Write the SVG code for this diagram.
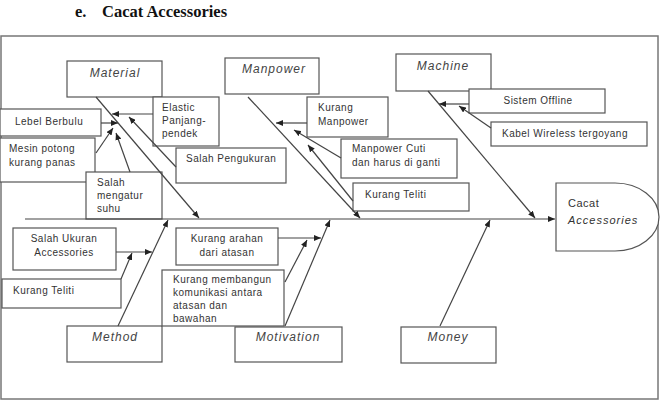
<svg xmlns="http://www.w3.org/2000/svg" width="660" height="403" viewBox="0 0 660 403">
<style>
.box{fill:#fff;stroke:#555;stroke-width:1.2}
.t{font-family:"Liberation Sans",Arial,sans-serif;font-size:10px;fill:#333;letter-spacing:0.5px}
.c{font-family:"Liberation Sans",Arial,sans-serif;font-size:12px;font-style:italic;fill:#444;letter-spacing:1px;text-anchor:middle}
.ln{stroke:#444;stroke-width:1.2;fill:none}
.ar{stroke:#444;stroke-width:1.2;fill:none;marker-end:url(#ah)}
</style>
<defs>
<marker id="ah" markerUnits="userSpaceOnUse" markerWidth="8" markerHeight="6" refX="7" refY="3" orient="auto">
<path d="M0,0 L7,3 L0,6 z" fill="#222"/>
</marker>
</defs>
<rect width="660" height="403" fill="#fff"/>
<text x="75" y="17" font-family="'Liberation Serif','Times New Roman',serif" font-size="16.5" font-weight="bold" fill="#111">e.</text>
<text x="102" y="17" font-family="'Liberation Serif','Times New Roman',serif" font-size="16.5" font-weight="bold" fill="#111">Cacat Accessories</text>
<rect x="1" y="36" width="657" height="363" fill="none" stroke="#777" stroke-width="1.5"/>

<g id="head">
<path class="box" d="M556,183 H615 A44,34 0 0 1 615,251 H556 Z"/>
<text class="t" x="568" y="207" style="font-size:11px">Cacat</text>
<text class="t" x="568" y="224" style="font-size:11px;font-style:italic;letter-spacing:1px">Accessories</text>
</g>

<g id="material"><rect class="box" x="67" y="61" width="95" height="36"/><text class="c" x="115" y="77">Material</text></g>
<g id="manpower"><rect class="box" x="225" y="58" width="94" height="36"/><text class="c" x="274" y="73">Manpower</text></g>
<g id="machine"><rect class="box" x="396" y="54" width="95" height="37"/><text class="c" x="443" y="70">Machine</text></g>
<g id="method"><rect class="box" x="67" y="326" width="95" height="36"/><text class="c" x="115" y="341">Method</text></g>
<g id="motivation"><rect class="box" x="235" y="327" width="107" height="35"/><text class="c" x="288" y="341">Motivation</text></g>
<g id="money"><rect class="box" x="401" y="327" width="95" height="36"/><text class="c" x="448" y="341">Money</text></g>

<g id="elastic"><rect class="box" x="153" y="97" width="66" height="49"/>
<text class="t" x="162" y="111">Elastic</text><text class="t" x="162" y="124">Panjang-</text><text class="t" x="162" y="137">pendek</text></g>
<g id="lebel"><rect class="box" x="0" y="109" width="101" height="27"/><text class="t" x="15" y="125">Lebel Berbulu</text></g>
<g id="mesin"><rect class="box" x="0" y="138" width="95" height="44"/>
<text class="t" x="9" y="152">Mesin potong</text><text class="t" x="9" y="166">kurang panas</text></g>
<g id="salahpengukuran"><rect class="box" x="176" y="148" width="110" height="35"/><text class="t" x="186" y="162">Salah Pengukuran</text></g>
<g id="salahsuhu"><rect class="box" x="86" y="172" width="76" height="47"/>
<text class="t" x="97" y="186">Salah</text><text class="t" x="97" y="199">mengatur</text><text class="t" x="97" y="212">suhu</text></g>

<g id="kurangmanpower"><rect class="box" x="307" y="97" width="81" height="40"/>
<text class="t" x="318" y="111">Kurang</text><text class="t" x="318" y="125">Manpower</text></g>
<g id="manpowercuti"><rect class="box" x="341" y="139" width="116" height="39"/>
<text class="t" x="352" y="152">Manpower Cuti</text><text class="t" x="352" y="166">dan harus di ganti</text></g>
<g id="kurangteliti1"><rect class="box" x="353" y="183" width="116" height="28"/><text class="t" x="365" y="198">Kurang Teliti</text></g>

<g id="sistemoffline"><rect class="box" x="469" y="89" width="136" height="24"/><text class="t" x="538" y="104" text-anchor="middle">Sistem Offline</text></g>
<g id="kabel"><rect class="box" x="491" y="122" width="156" height="24"/><text class="t" x="502" y="137">Kabel Wireless tergoyang</text></g>

<g id="salahukuran"><rect class="box" x="13" y="228" width="103" height="42"/>
<text class="t" x="64" y="242" text-anchor="middle">Salah Ukuran</text><text class="t" x="64" y="256" text-anchor="middle">Accessories</text></g>
<g id="kurangteliti2"><rect class="box" x="2" y="279" width="119" height="29"/><text class="t" x="13" y="294">Kurang Teliti</text></g>

<g id="kurangarahan"><rect class="box" x="176" y="228" width="102" height="37"/>
<text class="t" x="227" y="242" text-anchor="middle">Kurang arahan</text><text class="t" x="227" y="256" text-anchor="middle">dari atasan</text></g>
<g id="kurangmembangun"><rect class="box" x="162" y="270" width="122" height="56"/>
<text class="t" x="173" y="283">Kurang membangun</text><text class="t" x="173" y="296">komunikasi antara</text>
<text class="t" x="173" y="309">atasan dan</text><text class="t" x="173" y="322">bawahan</text></g>

<g id="connectors">
<line class="ar" x1="25" y1="219" x2="555" y2="219"/>
<line class="ar" x1="96" y1="97" x2="199" y2="218"/>
<line class="ar" x1="248" y1="97" x2="360" y2="218"/>
<line class="ar" x1="428" y1="91" x2="535" y2="218"/>
<line class="ar" x1="118" y1="326" x2="168" y2="220"/>
<line class="ar" x1="285" y1="326" x2="330" y2="220"/>
<line class="ar" x1="440" y1="326" x2="490" y2="220"/>
<line class="ar" x1="153" y1="114" x2="112" y2="114"/>
<line class="ar" x1="101" y1="123" x2="118" y2="123"/>
<line class="ar" x1="96" y1="153" x2="113" y2="128"/>
<line class="ar" x1="130" y1="172" x2="116" y2="133"/>
<line class="ar" x1="176" y1="167" x2="129" y2="117"/>
<line class="ar" x1="307" y1="123" x2="276" y2="123"/>
<line class="ar" x1="341" y1="158" x2="294" y2="130"/>
<line class="ar" x1="353" y1="201" x2="308" y2="145"/>
<line class="ar" x1="469" y1="104" x2="439" y2="104"/>
<line class="ar" x1="491" y1="128" x2="459" y2="106"/>
<line class="ar" x1="116" y1="252" x2="152" y2="252"/>
<line class="ar" x1="121" y1="279" x2="132" y2="253"/>
<line class="ar" x1="278" y1="238" x2="321" y2="238"/>
<line class="ar" x1="285" y1="282" x2="307" y2="240"/>
</g>
</svg>
